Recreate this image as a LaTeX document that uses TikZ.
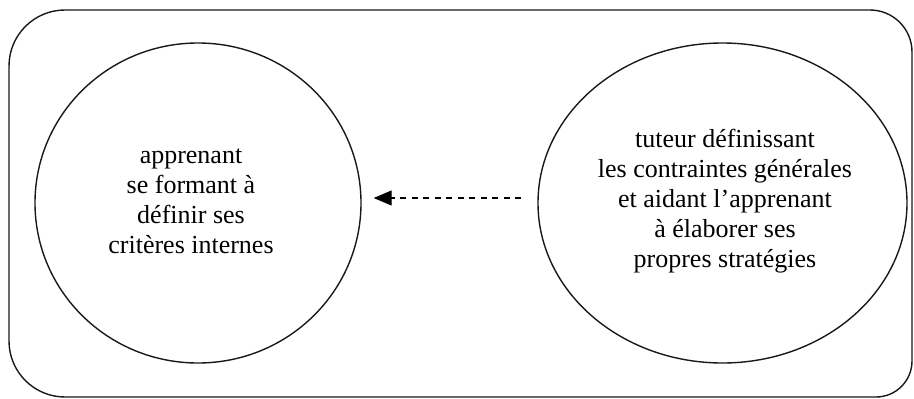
\documentclass[tikz,border=0pt]{standalone}
\usepackage{fontspec}
\setmainfont{Liberation Serif}[Ligatures=ResetAll]
\usetikzlibrary{shapes.geometric,arrows.meta,calc}
\begin{document}
\begin{tikzpicture}[x=1pt,y=1pt,
  outline/.style={draw=black!90,line width=1.4pt},
  bubble/.style={outline,ellipse,inner sep=0pt},
  label/.style={align=center,inner sep=0pt,font=\fontsize{26}{30}\selectfont},
  link/.style={black,line width=1.3pt,dash pattern=on 6pt off 5.5pt,
    -{Triangle[length=18pt,width=15pt]}}]
\useasboundingbox (0,0) rectangle (914,-399);
% outer frame
\draw[outline] (65,-10) -- (870,-10) arc[start angle=90,end angle=0,radius=42]
  -- (912,-361) arc[start angle=0,end angle=-90,radius=36]
  -- (65,-397) arc[start angle=270,end angle=180,radius=56]
  -- (9,-66) arc[start angle=180,end angle=90,radius=56] -- cycle;
% left circle
\node[bubble,minimum width=326pt,minimum height=320pt] (L) at (198,-203) {};
\node[label] (Lt) at (191,-201)
  {apprenant\\se formant à\\définir ses\\critères internes};
% right ellipse
\node[bubble,minimum width=369pt,minimum height=320pt] (R) at (722.5,-203) {};
\node[label] (Rt) at (725,-201)
  {tuteur définissant\\les contraintes générales\\et aidant l'apprenant\\à élaborer ses\\propres stratégies};
% arrow
\coordinate (As) at ($(R.west)+(-16,5)$);
\coordinate (Ae) at ($(L.east)+(12,5)$);
\draw[link] (As) -- (Ae);
\end{tikzpicture}
\end{document}
